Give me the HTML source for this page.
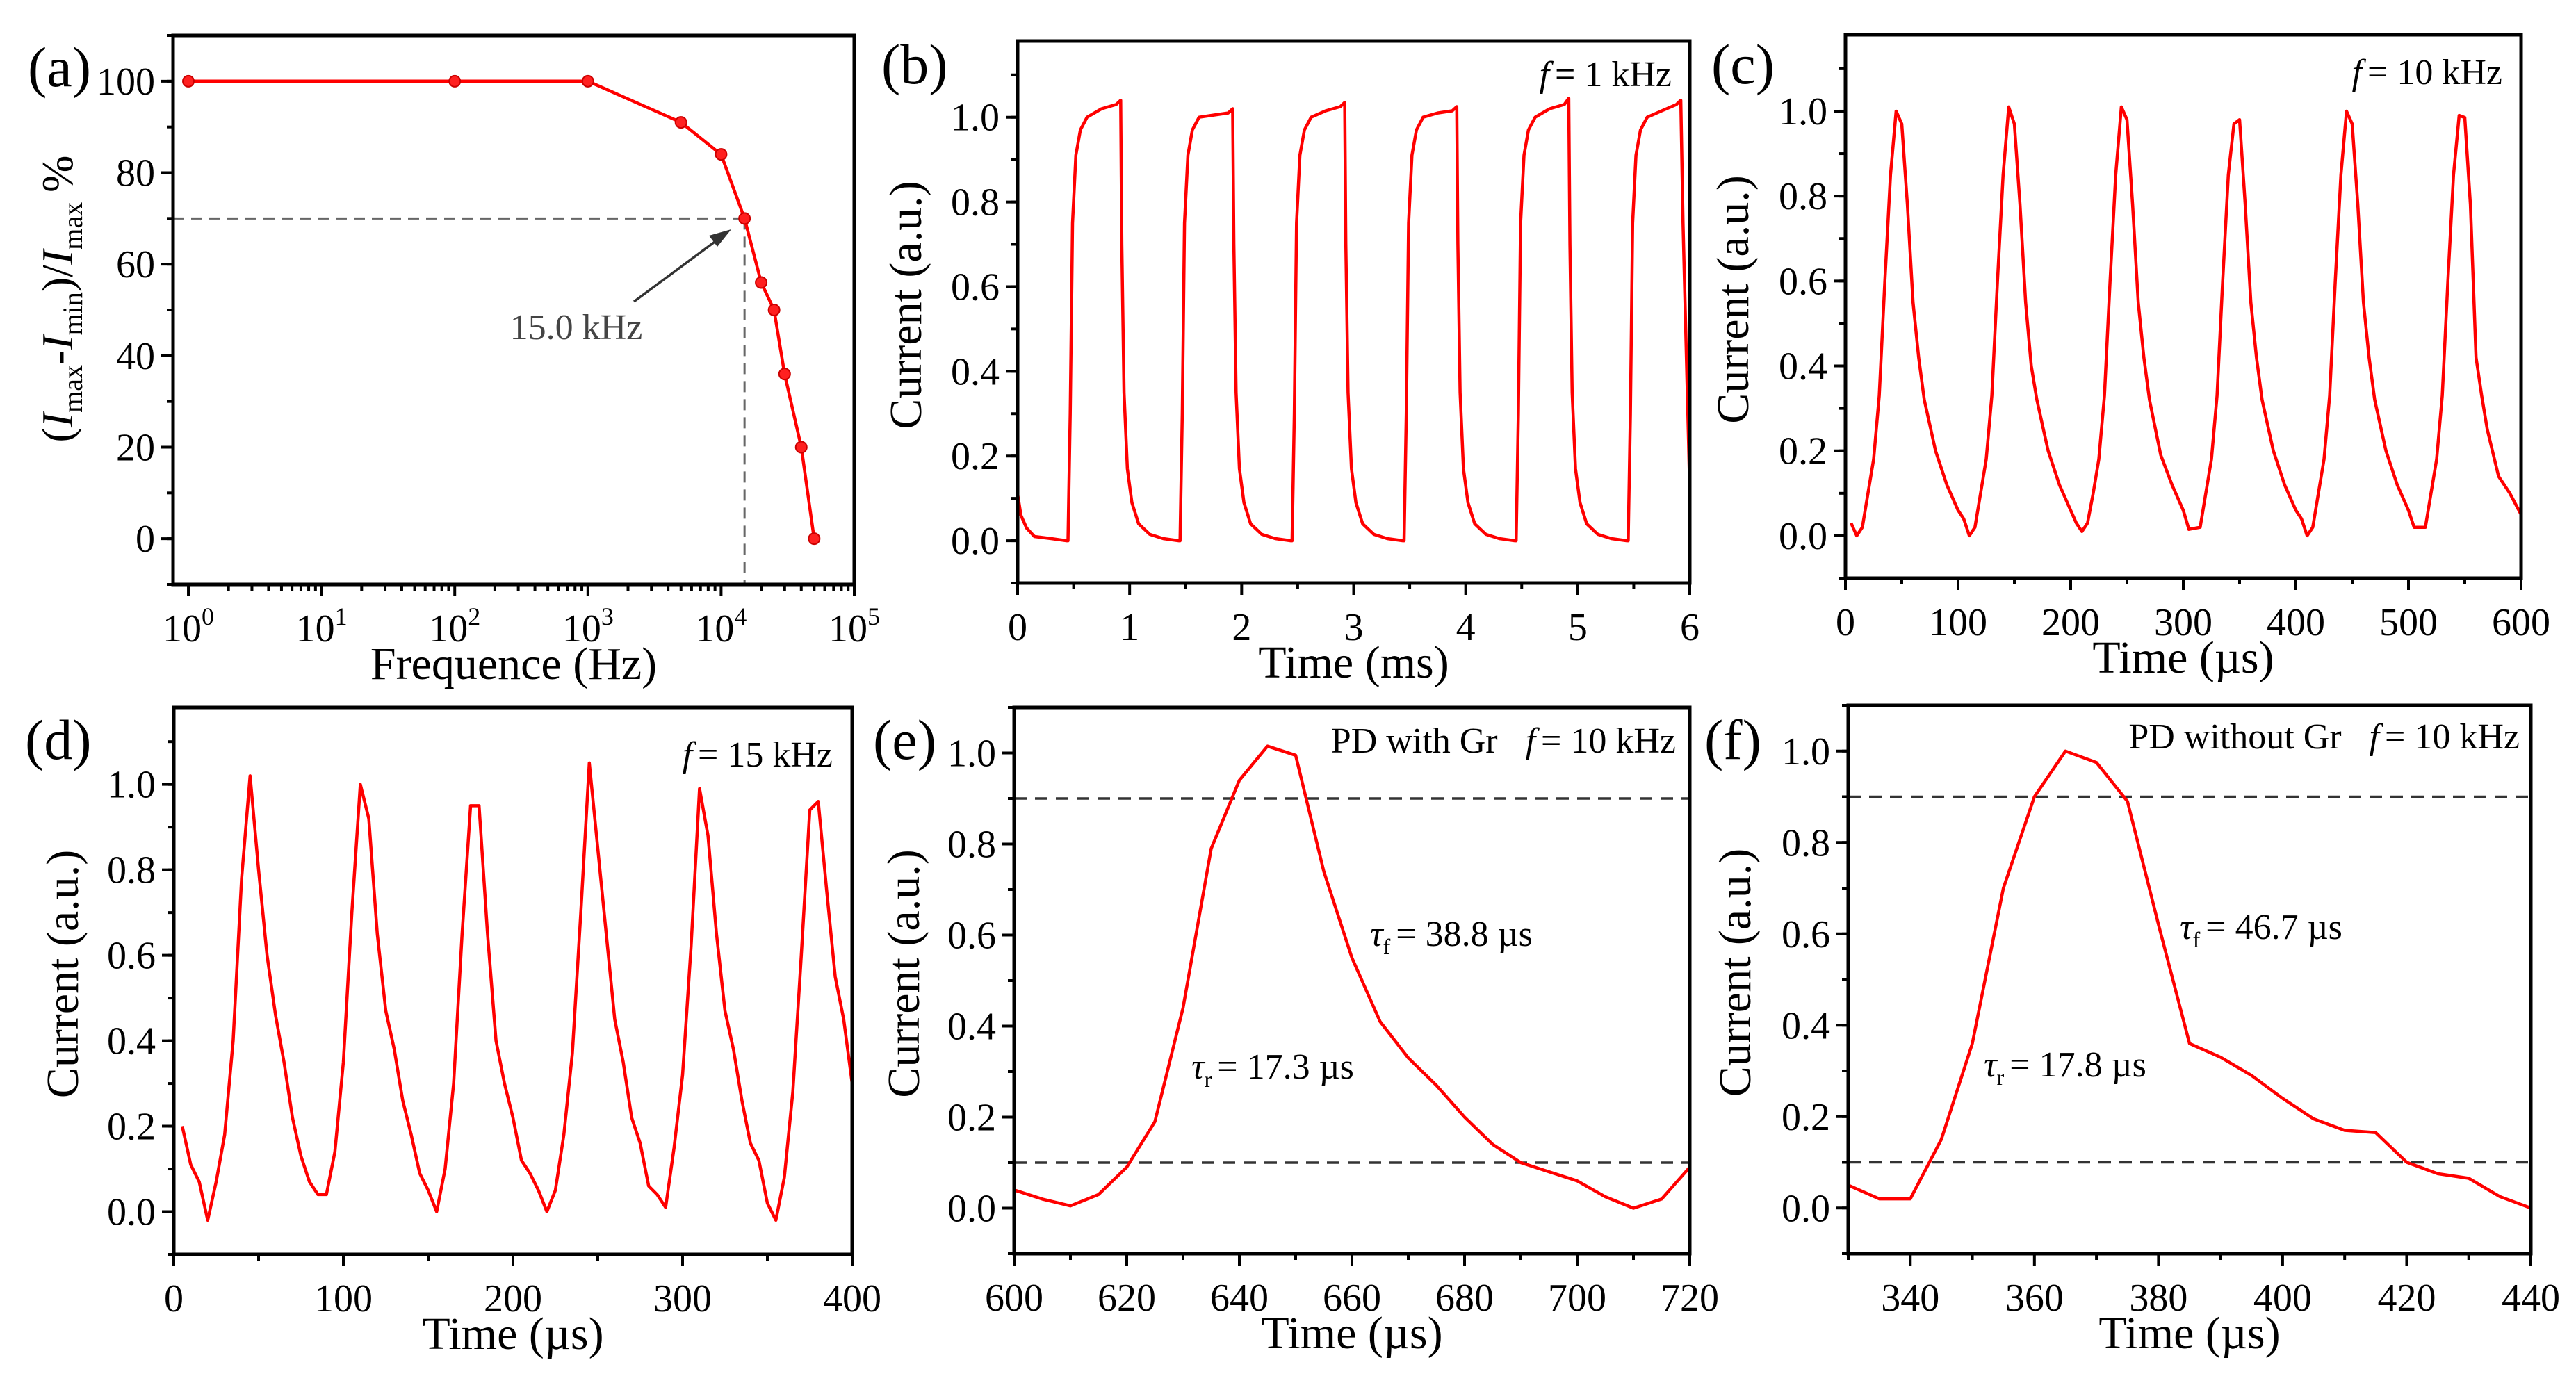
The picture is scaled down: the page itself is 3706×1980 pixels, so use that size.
<!DOCTYPE html>
<html><head><meta charset="utf-8"><style>
html,body{margin:0;padding:0;background:#fff;}
svg, svg text, svg tspan{font-family:"Liberation Serif","Times New Roman",serif;}
</style></head><body>
<svg id="fig" width="3706" height="1975" viewBox="0 0 3706 1975" xmlns="http://www.w3.org/2000/svg" font-family="Liberation Serif, serif"></svg>
<script>
// ---- data ----
const aFreq=[1,100,1000,5000,10000,15000,20000,25000,30000,40000,50000];
const aVal=[100,100,100,91,84,70,56,50,36,20,0];
const aCutoff=[15000,70];
const bTime=[0,0.03,0.08,0.15,0.3,0.44,
0.45,0.47,0.49,0.52,0.56,0.62,0.75,0.88,0.92,0.93,0.95,0.98,1.02,1.08,1.18,1.3,1.44,
1.45,1.47,1.49,1.52,1.56,1.62,1.75,1.88,1.92,1.93,1.95,1.98,2.02,2.08,2.18,2.3,2.44,
2.45,2.47,2.49,2.52,2.56,2.62,2.75,2.88,2.92,2.93,2.95,2.98,3.02,3.08,3.18,3.3,3.44,
3.45,3.47,3.49,3.52,3.56,3.62,3.75,3.88,3.92,3.93,3.95,3.98,4.02,4.08,4.18,4.3,4.44,
4.45,4.47,4.49,4.52,4.56,4.62,4.75,4.88,4.92,4.93,4.95,4.98,5.02,5.08,5.18,5.3,5.44,
5.45,5.47,5.49,5.52,5.56,5.62,5.75,5.88,5.92,5.94,6.0];
const bVal=[0.11,0.06,0.03,0.01,0.005,0,
0,0.3,0.75,0.91,0.97,1.0,1.02,1.03,1.04,0.7,0.35,0.17,0.09,0.04,0.015,0.005,0,
0,0.3,0.75,0.91,0.97,1.0,1.005,1.01,1.02,0.7,0.35,0.17,0.09,0.04,0.015,0.005,0,
0,0.3,0.75,0.91,0.97,1.0,1.015,1.025,1.035,0.7,0.35,0.17,0.09,0.04,0.015,0.005,0,
0,0.3,0.75,0.91,0.97,1.0,1.01,1.015,1.025,0.7,0.35,0.17,0.09,0.04,0.015,0.005,0,
0,0.3,0.75,0.91,0.97,1.0,1.02,1.03,1.045,0.7,0.35,0.17,0.09,0.04,0.015,0.005,0,
0,0.3,0.75,0.91,0.97,1.0,1.015,1.03,1.04,0.75,0.12];
const cTime=[5,10,15,20,25,30,35,40,45,50,55,60,65,70,80,90,100,105,
110,115,120,125,130,135,140,145,150,155,160,165,170,180,190,200,205,
210,215,220,225,230,235,240,245,250,255,260,265,270,280,290,300,305,
315,320,325,330,335,340,345,350,355,360,365,370,380,390,400,405,
410,415,420,425,430,435,440,445,450,455,460,465,470,480,490,500,505,
515,520,525,530,535,540,545,550,555,560,565,570,580,590,600];
const cVal=[0.03,0,0.02,0.1,0.18,0.33,0.6,0.85,1.0,0.97,0.78,0.55,0.42,0.32,0.2,0.12,0.06,0.04,
0,0.02,0.1,0.18,0.33,0.6,0.85,1.01,0.97,0.78,0.55,0.4,0.32,0.2,0.12,0.06,0.03,
0.01,0.03,0.1,0.18,0.33,0.6,0.85,1.01,0.98,0.78,0.55,0.42,0.32,0.19,0.12,0.06,0.015,
0.02,0.1,0.18,0.33,0.6,0.85,0.97,0.98,0.78,0.55,0.42,0.32,0.2,0.12,0.06,0.04,
0,0.02,0.1,0.18,0.33,0.6,0.85,1.0,0.97,0.78,0.55,0.42,0.32,0.2,0.12,0.06,0.02,
0.02,0.1,0.18,0.33,0.6,0.85,0.99,0.985,0.78,0.42,0.33,0.25,0.14,0.1,0.05];
const dTime=[5,10,15,20,25,30,35,40,45,50,55,60,65,70,75,80,85,90,95,100,105,110,115,120,125,130,135,140,145,150,155,160,165,170,175,180,185,190,195,200,205,210,215,220,225,230,235,240,245,250,255,260,265,270,275,280,285,290,295,300,305,310,315,320,325,330,335,340,345,350,355,360,365,370,375,380,385,390,395,400];
const dVal=[0.2,0.11,0.07,-0.02,0.07,0.18,0.4,0.78,1.02,0.8,0.6,0.46,0.35,0.22,0.13,0.07,0.04,0.04,0.14,0.35,0.7,1.0,0.92,0.65,0.47,0.38,0.26,0.18,0.09,0.05,0.0,0.1,0.3,0.65,0.95,0.95,0.65,0.4,0.3,0.22,0.12,0.09,0.05,0.0,0.05,0.18,0.37,0.7,1.05,0.85,0.65,0.45,0.35,0.22,0.16,0.06,0.04,0.01,0.15,0.32,0.62,0.99,0.88,0.65,0.47,0.38,0.26,0.16,0.12,0.02,-0.02,0.08,0.28,0.6,0.94,0.96,0.75,0.55,0.45,0.3];
const eTime=[600,605,610,615,620,625,630,635,640,645,650,655,660,665,670,675,680,685,690,695,700,705,710,715,720];
const eVal=[0.04,0.02,0.005,0.03,0.09,0.19,0.44,0.79,0.94,1.015,0.995,0.74,0.55,0.41,0.33,0.27,0.2,0.14,0.1,0.08,0.06,0.025,0.0,0.02,0.09];
const fTime=[330,335,340,345,350,355,360,365,370,375,380,385,390,395,400,405,410,415,420,425,430,435,440];
const fVal=[0.05,0.02,0.02,0.15,0.36,0.7,0.9,1.0,0.975,0.89,0.62,0.36,0.33,0.29,0.24,0.195,0.17,0.165,0.1,0.075,0.065,0.025,0.0];
const thresholds=[0.1,0.9];
const bTicks=[0,1,2,3,4,5,6];
const cTicks=[0,100,200,300,400,500,600];
const dTicks=[0,100,200,300,400];
const eTicks=[600,620,640,660,680,700,720];
const fTicks=[340,360,380,400,420,440];
const curTicks=[0,0.2,0.4,0.6,0.8,1.0];
const aYTicks=[0,20,40,60,80,100];
const aXTicks=[0,1,2,3,4,5];

// ---- drawing ----
const NS="http://www.w3.org/2000/svg";
const svg=document.getElementById('fig');
const FONT='Liberation Serif, Times New Roman, serif';
function mk(tag,attrs,parent){const e=document.createElementNS(NS,tag);for(const k in attrs)e.setAttribute(k,attrs[k]);if(tag==='text')e.setAttribute('font-family',FONT);(parent||svg).appendChild(e);return e;}
function scale(d0,d1,r0,r1){return v=>r0+(v-d0)/(d1-d0)*(r1-r0);}

function panel(cfg){
  const g=mk('g',{});
  
  
  const X=cfg.log?(v=>scale(cfg.x0,cfg.x1,cfg.L,cfg.R)(Math.log10(v))):scale(cfg.x0,cfg.x1,cfg.L,cfg.R);
  const Y=scale(cfg.y0,cfg.y1,cfg.B,cfg.T);
  cfg.X=X;cfg.Y=Y;
  const tg=mk('g',{stroke:'#000','stroke-width':4},g);
  
  
  cfg.yMinor.forEach(v=>{const y=Y(v);mk('line',{x1:cfg.L-9,x2:cfg.L,y1:y,y2:y},tg);});
  cfg.yTicks.forEach(v=>{const y=Y(v);mk('line',{x1:cfg.L-17,x2:cfg.L,y1:y,y2:y},tg);});
  cfg.xMinor.forEach(v=>{const x=X(v);mk('line',{x1:x,x2:x,y1:cfg.B,y2:cfg.B+9},tg);});
  cfg.xMajor.forEach(v=>{const x=X(v);mk('line',{x1:x,x2:x,y1:cfg.B,y2:cfg.B+17},tg);});
  cfg.yTicks.forEach(v=>{
    const t=mk('text',{x:cfg.L-26,y:Y(v)+19,'text-anchor':'end','font-size':56},g);
    
    
    t.textContent=cfg.yFmt(v);
  });
  cfg.xLabels.forEach(v=>{
    const t=mk('text',{x:X(cfg.log?Math.pow(10,v):v),y:cfg.B+82,'text-anchor':'middle','font-size':56},g);
    
    
    if(cfg.log){t.textContent='10';const s=mk('tspan',{dy:-24,'font-size':36},t);s.textContent=String(v);}
    else t.textContent=String(v);
  });
  const xt=mk('text',{x:(cfg.L+cfg.R)/2,y:cfg.B+136,'text-anchor':'middle','font-size':66},g);
  
  
  xt.textContent=cfg.xTitle;
  if(cfg.yTitle){
    const cy=(cfg.T+cfg.B)/2-10;
    const yt=mk('text',{x:cfg.yx,y:cy,'text-anchor':'middle','font-size':66,transform:`rotate(-90 ${cfg.yx} ${cy})`},g);
    
    
    yt.textContent=cfg.yTitle;
  }
  const pl=mk('text',{x:cfg.lx,y:cfg.ly,'font-size':82},g);
  
  
  pl.textContent='('+cfg.id+')';
  return g;
}
function box(cfg,g){
  const r=mk('rect',{x:cfg.L,y:cfg.T,width:cfg.R-cfg.L,height:cfg.B-cfg.T,fill:'none',stroke:'#000','stroke-width':5},g);
  
  
}
function line(cfg,g,xs,ys,name){
  const pts=xs.map((x,i)=>cfg.X(x).toFixed(1)+','+cfg.Y(ys[i]).toFixed(1)).join(' ');
  const p=mk('polyline',{points:pts,fill:'none',stroke:'#ff0000','stroke-width':4.5,'stroke-linejoin':'round'},g);
  
  
}
function note(g,x,y,anchor){
  const t=mk('text',{x:x,y:y,'font-size':52,'text-anchor':anchor||'start'},g);
  
  
  return t;
}
function fLabel(g,x,y,rest,pre){
  const t=note(g,x,y,'end');
  if(pre){const a=mk('tspan',{},t);a.textContent=pre;}
  const f=mk('tspan',{'font-style':'italic',dx:pre?40:0},t);f.textContent='f';
  const r=mk('tspan',{dx:8},t);r.textContent=rest;
}
function tauLabel(g,x,y,sub,rest){
  const t=note(g,x,y);
  const a=mk('tspan',{'font-style':'italic'},t);a.textContent='τ';
  const s=mk('tspan',{'font-size':32,dy:12},t);s.textContent=sub;
  const r=mk('tspan',{dy:-12,dx:8},t);r.textContent=rest;
}
function range(a,b,s){const o=[];for(let v=a;v<=b+1e-9;v+=s)o.push(+v.toFixed(6));return o;}
const fmt1=v=>v.toFixed(1);

// panel a
const aMinor=[];for(let d=0;d<5;d++)for(let k=2;k<=9;k++)aMinor.push(k*Math.pow(10,d));
const A={id:'a',L:249,R:1229,T:51,B:841,log:true,x0:-0.115,x1:5,y0:-10,y1:110,
 yTicks:aYTicks,yMinor:range(-10,110,10),xMajor:aXTicks.map(v=>Math.pow(10,v)),xMinor:aMinor,
 xLabels:aXTicks,yFmt:v=>String(v),xTitle:'Frequence (Hz)',yTitle:null,lx:40,ly:124};
const ga=panel(A);
const dg=mk('g',{stroke:'#666','stroke-width':3,'stroke-dasharray':'16 10',fill:'none'},ga);


mk('line',{x1:A.L,x2:A.X(aCutoff[0]),y1:A.Y(aCutoff[1]),y2:A.Y(aCutoff[1])},dg);
mk('line',{x1:A.X(aCutoff[0]),x2:A.X(aCutoff[0]),y1:A.Y(aCutoff[1]),y2:A.B},dg);
line(A,ga,aFreq,aVal,'cutoff-curve');
aFreq.forEach((f,i)=>{
  const c=mk('circle',{cx:A.X(f),cy:A.Y(aVal[i]),r:8,fill:'#ff2020',stroke:'#cc0000','stroke-width':2},ga);
  
  
});
const ar=mk('g',{},ga);


mk('line',{x1:912,y1:434,x2:1035,y2:343,stroke:'#333','stroke-width':3.5},ar);
mk('polygon',{points:'1052,330 1020,339 1032,355',fill:'#333'},ar);
const kt=note(ga,829,488,'middle');kt.setAttribute('fill','#444');kt.textContent='15.0 kHz';
box(A,ga);
(function(){const x=104,y=430;
 const t=mk('text',{x:x,y:y,'text-anchor':'middle','font-size':64,transform:`rotate(-90 ${x} ${y})`},ga);
 
 
 const parts=[['(',0,null],['I',0,'i'],['max',1,null],['-',0,null],['I',0,'i'],['min',1,null],[')/',0,null],['I',0,'i'],['max',1,null],[' %',0,null]];
 let sub=false;
 parts.forEach(p=>{const a={};if(p[2])a['font-style']='italic';
  if(p[1]&&!sub){a.dy=14;a['font-size']=40;sub=true;}else if(p[1]){a['font-size']=40;}
  else if(sub){a.dy=-14;sub=false;}
  if(p[0]===' %')a.dx=14;
  const s=mk('tspan',a,t);s.textContent=p[0].trim();});
})();

const curMinor=range(-0.1,1.1,0.1);
const B={id:'b',L:1464,R:2431,T:59,B:839,x0:0,x1:6,y0:-0.1,y1:1.18,yTicks:curTicks,yMinor:curMinor,
 xMajor:bTicks,xMinor:range(0.5,5.5,1),xLabels:bTicks,yFmt:fmt1,xTitle:'Time (ms)',yTitle:'Current (a.u.)',yx:1325,lx:1268,ly:120};
const gb=panel(B);line(B,gb,bTime,bVal,'series-1khz');box(B,gb);fLabel(gb,2405,124,'= 1 kHz');

const C={id:'c',L:2655,R:3627,T:50,B:832,x0:0,x1:600,y0:-0.1,y1:1.18,yTicks:curTicks,yMinor:curMinor,
 xMajor:cTicks,xMinor:range(50,550,100),xLabels:cTicks,yFmt:fmt1,xTitle:'Time (µs)',yTitle:'Current (a.u.)',yx:2515,lx:2462,ly:120};
const gc=panel(C);line(C,gc,cTime,cVal,'series-10khz');box(C,gc);fLabel(gc,3600,121,'= 10 kHz');

const D={id:'d',L:250,R:1226,T:1018,B:1805,x0:0,x1:400,y0:-0.1,y1:1.18,yTicks:curTicks,yMinor:curMinor,
 xMajor:dTicks,xMinor:range(50,350,100),xLabels:dTicks,yFmt:fmt1,xTitle:'Time (µs)',yTitle:'Current (a.u.)',yx:112,lx:36,ly:1092};
const gd=panel(D);line(D,gd,dTime,dVal,'series-15khz');box(D,gd);fLabel(gd,1198,1103,'= 15 kHz');

const E={id:'e',L:1459,R:2431,T:1018,B:1804,x0:600,x1:720,y0:-0.1,y1:1.1,yTicks:curTicks,yMinor:range(-0.1,1.1,0.1),
 xMajor:eTicks,xMinor:range(610,710,20),xLabels:eTicks,yFmt:fmt1,xTitle:'Time (µs)',yTitle:'Current (a.u.)',yx:1322,lx:1256,ly:1092};
const ge=panel(E);
thresholds.forEach(v=>{const l=mk('line',{x1:E.L,x2:E.R,y1:E.Y(v),y2:E.Y(v),stroke:'#333','stroke-width':3.5,'stroke-dasharray':'18 12'},ge);
 
 });
line(E,ge,eTime,eVal,'series-with-gr');box(E,ge);
fLabel(ge,2411,1083,'= 10 kHz','PD with Gr');
tauLabel(ge,1971,1361,'f','= 38.8 µs');
tauLabel(ge,1714,1552,'r','= 17.3 µs');

const F={id:'f',L:2659,R:3641,T:1015,B:1804,x0:330,x1:440,y0:-0.1,y1:1.1,yTicks:curTicks,yMinor:range(-0.1,1.1,0.1),
 xMajor:fTicks,xMinor:range(330,430,20),xLabels:fTicks,yFmt:fmt1,xTitle:'Time (µs)',yTitle:'Current (a.u.)',yx:2518,lx:2452,ly:1092};
const gf=panel(F);
thresholds.forEach(v=>{const l=mk('line',{x1:F.L,x2:F.R,y1:F.Y(v),y2:F.Y(v),stroke:'#333','stroke-width':3.5,'stroke-dasharray':'18 12'},gf);
 
 });
line(F,gf,fTime,fVal,'series-without-gr');box(F,gf);
fLabel(gf,3625,1077,'= 10 kHz','PD without Gr');
tauLabel(gf,3136,1351,'f','= 46.7 µs');
tauLabel(gf,2854,1549,'r','= 17.8 µs');
</script>
</body></html>
